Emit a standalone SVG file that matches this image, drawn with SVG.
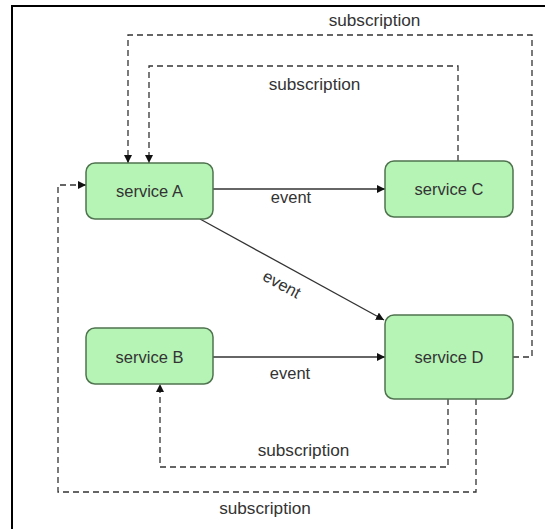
<svg xmlns="http://www.w3.org/2000/svg" width="550" height="529" viewBox="0 0 550 529">
<defs>
<style>
.node rect{fill:#b6f4b6;stroke:#4f734f;stroke-width:1.5}
text{font-family:"Liberation Sans",Arial,Helvetica,sans-serif;font-size:16.5px;fill:#333;text-anchor:middle}
text.sub{font-size:17.2px}
.edge{fill:none;stroke:#333;stroke-width:1.3}
.dash{stroke-dasharray:6 4}
.frame{stroke:#000;stroke-width:2;fill:none}
</style>
<marker id="arr" viewBox="0 0 10 10" refX="10" refY="5" markerWidth="8" markerHeight="8" markerUnits="userSpaceOnUse" orient="auto">
<path d="M0,0 L10,5 L0,10 z" fill="#111"/>
</marker>
</defs>
<rect width="550" height="529" fill="#fff"/>
<path class="frame" d="M12,529 V6 H545"/>
<g id="connectors">
<line class="edge" x1="213" y1="189" x2="385" y2="189" marker-end="url(#arr)"/>
<line class="edge" x1="200" y1="219" x2="384" y2="320" marker-end="url(#arr)"/>
<line class="edge" x1="213" y1="357" x2="385" y2="357" marker-end="url(#arr)"/>
<path class="edge dash" d="M458,161 V66 H149 V163" marker-end="url(#arr)"/>
<path class="edge dash" d="M513,357 H532 V35 H128 V163" marker-end="url(#arr)"/>
<path class="edge dash" d="M448,399 V467 H160 V384" marker-end="url(#arr)"/>
<path class="edge dash" d="M476,399 V492 H58 V185 H86" marker-end="url(#arr)"/>
<text class="sub" x="374.5" y="26">subscription</text>
<text class="sub" x="314.5" y="90">subscription</text>
<text x="291" y="203">event</text>
<text transform="translate(282,284) rotate(29)" x="0" y="6">event</text>
<text x="290" y="379">event</text>
<text class="sub" x="303.5" y="456">subscription</text>
<text class="sub" x="265" y="514">subscription</text>
</g>
<g id="serviceA" class="node"><rect x="86" y="163" width="127" height="56" rx="9"/><text x="149.5" y="197">service A</text></g>
<g id="serviceB" class="node"><rect x="86" y="328" width="127" height="56" rx="9"/><text x="149.5" y="362.5">service B</text></g>
<g id="serviceC" class="node"><rect x="385" y="161" width="128" height="56" rx="9"/><text x="449" y="195">service C</text></g>
<g id="serviceD" class="node"><rect x="385" y="315" width="128" height="84" rx="9"/><text x="449" y="363">service D</text></g>
</svg>
